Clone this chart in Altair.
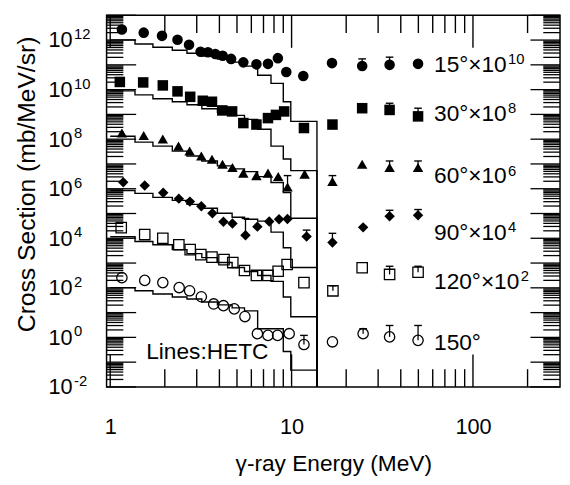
import altair as alt
import pandas as pd

FONT = "Liberation Sans"
W, H = 460, 377

# ---------------- measured points: energy (MeV), log10(cross section, scaled) ----------------
e_15 = [1.16, 1.53, 1.93, 2.35, 2.72, 3.15, 3.46, 3.80, 4.17, 4.64, 5.42, 6.40, 7.41, 8.40, 9.35, 11.6, 16.7, 24.5, 34.7, 49.8]
lg_15 = [12.43, 12.30, 12.17, 12.01, 11.81, 11.53, 11.51, 11.44, 11.37, 11.24, 11.10, 11.02, 11.04, 11.27, 10.71, 10.55, 11.07, 10.95, 11.00, 11.04]

e_30 = [1.13, 1.52, 1.95, 2.35, 2.76, 3.24, 3.64, 4.15, 4.70, 5.42, 6.40, 7.41, 8.2, 9.1, 11.7, 16.8, 24.5, 34.7, 49.8]
lg_30 = [10.31, 10.29, 10.17, 9.93, 9.71, 9.55, 9.51, 9.16, 9.12, 8.65, 8.59, 8.85, 8.98, 9.12, 8.45, 8.59, 9.25, 9.18, 8.92]

e_60 = [1.16, 1.53, 1.95, 2.38, 2.74, 3.18, 3.64, 4.16, 4.72, 5.42, 6.40, 7.41, 8.44, 9.50, 11.8, 16.8, 24.5, 34.7, 49.8]
lg_60 = [8.25, 8.15, 8.01, 7.72, 7.52, 7.32, 7.19, 6.99, 6.86, 6.63, 6.53, 6.63, 6.49, 6.07, 6.59, 6.29, 6.99, 6.86, 6.86]

e_90 = [1.18, 1.55, 1.96, 2.39, 2.75, 3.18, 3.66, 4.21, 4.72, 5.57, 6.48, 7.53, 8.53, 9.49, 12.1, 16.8, 24.8, 34.7, 49.8]
lg_90 = [6.26, 6.13, 5.84, 5.60, 5.48, 5.29, 5.01, 4.67, 4.60, 4.12, 4.47, 4.68, 4.77, 4.78, 4.07, 3.83, 4.44, 4.89, 4.93]

e_120 = [1.15, 1.55, 1.95, 2.39, 2.76, 3.16, 3.64, 4.24, 4.74, 5.50, 6.40, 7.41, 8.43, 9.45, 11.7, 16.9, 24.5, 34.7, 49.8]
lg_120 = [4.43, 4.15, 4.00, 3.74, 3.54, 3.34, 3.24, 3.14, 3.02, 2.70, 2.50, 2.50, 2.67, 2.94, 2.21, 1.88, 2.81, 2.54, 2.63]

e_150 = [1.16, 1.55, 1.95, 2.40, 2.74, 3.18, 3.72, 4.21, 4.83, 5.53, 6.48, 7.41, 8.37, 9.70, 11.7, 16.8, 24.8, 34.7, 49.8]
lg_150 = [2.41, 2.30, 2.21, 2.01, 1.88, 1.64, 1.35, 1.28, 1.15, 0.84, 0.15, 0.08, 0.08, 0.15, -0.29, -0.18, 0.15, 0.02, -0.12]

# ---------------- HETC histograms: bin edges (MeV) and log10 values per bin ----------------
hetc_edges = [1.0, 1.37, 1.72, 2.2, 2.65, 3.2, 3.9, 4.7, 5.5, 6.5, 7.7, 9.0, 9.9, 13.8]
hetc_15 = [12.01, 11.84, 11.71, 11.59, 11.47, 11.35, 11.23, 11.11, 10.95, 10.58, 10.25, 9.51, 8.72]
hetc_30 = [9.95, 9.79, 9.63, 9.51, 9.39, 9.23, 9.08, 8.96, 8.80, 8.40, 7.72, 7.20, 6.73]
hetc_60 = [8.12, 7.88, 7.72, 7.52, 7.32, 7.12, 6.92, 6.80, 6.69, 6.49, 6.25, 5.85, 4.81]
hetc_90 = [5.93, 5.81, 5.65, 5.53, 5.37, 5.21, 5.01, 4.85, 4.77, 4.69, 4.25, 3.62, 2.82]
hetc_120 = [4.06, 3.87, 3.74, 3.54, 3.38, 3.22, 3.02, 2.82, 2.66, 2.50, 2.26, 1.63, 0.83]
hetc_150 = [2.01, 1.88, 1.75, 1.63, 1.55, 1.43, 1.31, 1.19, 1.07, 0.35, 0.35, -0.57, -1.32]

# ---------------- upper error bars ----------------
err_series = ["15°", "15°", "30°", "30°", "60°", "60°", "60°", "60°", "90°", "90°", "90°", "90°", "90°",
              "120°", "120°", "120°", "150°", "150°", "150°", "150°"]
err_e = [24.5, 34.7, 34.7, 49.8, 9.50, 16.8, 34.7, 49.8, 5.57, 12.1, 16.8, 34.7, 49.8,
         16.9, 34.7, 49.8, 11.7, 24.8, 34.7, 49.8]
err_lo = [10.95, 11.00, 9.18, 8.92, 6.07, 6.29, 6.86, 6.86, 4.12, 4.07, 3.83, 4.89, 4.93,
          1.88, 2.54, 2.63, -0.29, 0.15, 0.02, -0.12]
err_hi = [11.24, 11.31, 9.45, 9.25, 6.53, 6.53, 7.12, 7.12, 4.80, 4.33, 4.20, 5.13, 5.16,
          2.08, 2.87, 2.87, 0.08, 0.35, 0.48, 0.48]

# ---------------- labels ----------------
series = ["15°", "30°", "60°", "90°", "120°", "150°"]
label_base = ["15°×10", "30°×10", "60°×10", "90°×10", "120°×10", "150°"]
label_sup = ["10", "8", "6", "4", "2", ""]
label_lg = [10.99, 9.0, 6.49, 4.22, 2.22, -0.25]
label_e = 61.0
note_text = "Lines:HETC"
note_e, note_lg = 1.58, -0.61

x_major = [1, 10, 100]
x_minor = [2, 3, 4, 5, 6, 7, 8, 9, 20, 30, 40, 50, 60, 70, 80, 90, 200]
y_major = [10.0 ** k for k in range(-2, 14)]
y_minor = [m * 10.0 ** k for k in range(-2, 13) for m in range(2, 10)]
y_label_exp = [-2, 0, 2, 4, 6, 8, 10, 12]
y_label_sup = ["-2", "0", "2", "4", "6", "8", "10", "12"]

# ---------------- build tables ----------------
meas = {"15°": (e_15, lg_15), "30°": (e_30, lg_30), "60°": (e_60, lg_60),
        "90°": (e_90, lg_90), "120°": (e_120, lg_120), "150°": (e_150, lg_150)}
rows = []
for s, (es, ls) in meas.items():
    for e, l in zip(es, ls):
        rows.append({"series": s, "E": e, "sigma": 10.0 ** l})
pts = pd.DataFrame(rows)
filled_pts = pts[pts.series.isin(["15°", "30°", "60°", "90°"])]
open_pts = pts[pts.series.isin(["120°", "150°"])]

hetc = {"15°": hetc_15, "30°": hetc_30, "60°": hetc_60, "90°": hetc_90, "120°": hetc_120, "150°": hetc_150}
hrows = []
for s, vals in hetc.items():
    for i, (e, v) in enumerate(zip(hetc_edges[:-1], vals)):
        hrows.append({"series": s, "E": e, "sigma": 10.0 ** v, "o": i})
    hrows.append({"series": s, "E": hetc_edges[-1], "sigma": 1e-6, "o": len(vals)})
hetc_df = pd.DataFrame(hrows)

err_df = pd.DataFrame({"series": err_series, "E": err_e,
                       "lo": [10.0 ** v for v in err_lo], "hi": [10.0 ** v for v in err_hi]})
lab_df = pd.DataFrame({"E": [label_e] * len(series), "sigma": [10.0 ** v for v in label_lg],
                       "base": label_base, "sup": label_sup, "series": series})
note_df = pd.DataFrame({"E": [note_e], "sigma": [10.0 ** note_lg], "text": [note_text]})
ysup_df = pd.DataFrame({"v": [10.0 ** k for k in y_label_exp], "sup": y_label_sup})

xs = alt.Scale(type="log", domain=[0.955, 302], nice=False)
ys = alt.Scale(type="log", domain=[1e-2, 1e13], nice=False)

x_axis = alt.Axis(values=x_major, format=".0f", ticks=False, domain=False, grid=False,
                  labelFontSize=22, labelPadding=30, labelFlush=False,
                  title="γ-ray Energy (MeV)", titleFontSize=23, titleFontWeight="normal",
                  titleY=78, titleBaseline="middle")
y_axis = alt.Axis(values=[10.0 ** k for k in y_label_exp], labelExpr="'10'", ticks=False,
                  domain=False, grid=False, labelFontSize=22, labelPadding=35, labelFlush=False,
                  title="Cross Section (mb/MeV/sr)", titleFontSize=25, titleFontWeight="normal",
                  titleX=-81, titleY=171, titleAngle=270, titleBaseline="middle", titleAlign="center")


def X(field):
    return alt.X(field, scale=xs, axis=x_axis)


def Y(field):
    return alt.Y(field, scale=ys, axis=y_axis)


lines = alt.Chart(hetc_df).mark_line(interpolate="step-after", color="black", strokeWidth=1.4, clip=True).encode(
    x=X("E:Q"), y=Y("sigma:Q"), detail="series:N", order="o:Q",
)

err_rules = alt.Chart(err_df).mark_rule(color="black", strokeWidth=1.3).encode(
    x=X("E:Q"), y=Y("lo:Q"), y2="hi:Q",
)
err_caps = alt.Chart(err_df).mark_point(shape="M-1,0L1,0", size=60, filled=False, color="black",
                                        strokeWidth=1.4, opacity=1).encode(
    x=X("E:Q"), y=Y("hi:Q"),
)

shape_scale = alt.Scale(domain=series, range=["circle", "square", "triangle-up", "diamond", "square", "circle"])
size_scale = alt.Scale(domain=series, range=[115, 110, 155, 145, 95, 105])

filled_layer = alt.Chart(filled_pts).mark_point(filled=True, color="black", opacity=1).encode(
    x=X("E:Q"), y=Y("sigma:Q"),
    shape=alt.Shape("series:N", scale=shape_scale, legend=None),
    size=alt.Size("series:N", scale=size_scale, legend=None),
)
open_layer = alt.Chart(open_pts).mark_point(filled=False, color="black", strokeWidth=1.3, opacity=1).encode(
    x=X("E:Q"), y=Y("sigma:Q"),
    shape=alt.Shape("series:N", scale=shape_scale, legend=None),
    size=alt.Size("series:N", scale=size_scale, legend=None),
)

text_kw = dict(align="left", baseline="middle", font=FONT, color="black")
labels = alt.Chart(lab_df).mark_text(fontSize=23, **text_kw).encode(
    x=X("E:Q"), y=Y("sigma:Q"), text="base:N",
)
sup_a = alt.Chart(lab_df[lab_df.series.isin(["15°", "30°", "60°", "90°"])]).mark_text(
    fontSize=15, dx=75, dy=-6, **text_kw).encode(x=X("E:Q"), y=Y("sigma:Q"), text="sup:N")
sup_b = alt.Chart(lab_df[lab_df.series == "120°"]).mark_text(
    fontSize=15, dx=88, dy=-6, **text_kw).encode(x=X("E:Q"), y=Y("sigma:Q"), text="sup:N")
note = alt.Chart(note_df).mark_text(fontSize=23, **text_kw).encode(
    x=X("E:Q"), y=Y("sigma:Q"), text="text:N",
)
ysup = alt.Chart(ysup_df).mark_text(fontSize=15, dy=-6, **text_kw).encode(
    x=alt.value(-33), y=Y("v:Q"), text="sup:N",
)

xmaj_df = pd.DataFrame({"v": x_major})
xmin_df = pd.DataFrame({"v": x_minor})
ymaj_df = pd.DataFrame({"v": y_major})
ymin_df = pd.DataFrame({"v": y_minor})


def xtick(df, y0, y1):
    return alt.Chart(df).mark_rule(color="black", strokeWidth=1.4).encode(
        x=X("v:Q"), y=alt.value(y0), y2=alt.value(y1))


def ytick(df, x0, x1):
    return alt.Chart(df).mark_rule(color="black", strokeWidth=1.3).encode(
        y=Y("v:Q"), x=alt.value(x0), x2=alt.value(x1))


ticks = [
    xtick(xmaj_df, H, H - 33), xtick(xmaj_df, 0, 33),
    xtick(xmin_df, H, H - 18), xtick(xmin_df, 0, 18),
    ytick(ymaj_df, 0, 30), ytick(ymaj_df, W, W - 30),
    ytick(ymin_df, 0, 17), ytick(ymin_df, W, W - 17),
]

chart = alt.layer(lines, *ticks, err_rules, err_caps, filled_layer, open_layer,
                  labels, sup_a, sup_b, note, ysup).properties(
    width=W, height=H,
    padding={"left": 100, "top": 4, "right": 2, "bottom": 90},
    autosize=alt.AutoSizeParams(type="none"),
    background="white",
).configure_view(stroke="black", strokeWidth=1.5).configure_axis(
    labelFont=FONT, titleFont=FONT, labelColor="black", titleColor="black"
)

chart.save("out.html", embed_options={"renderer": "svg", "actions": False})
